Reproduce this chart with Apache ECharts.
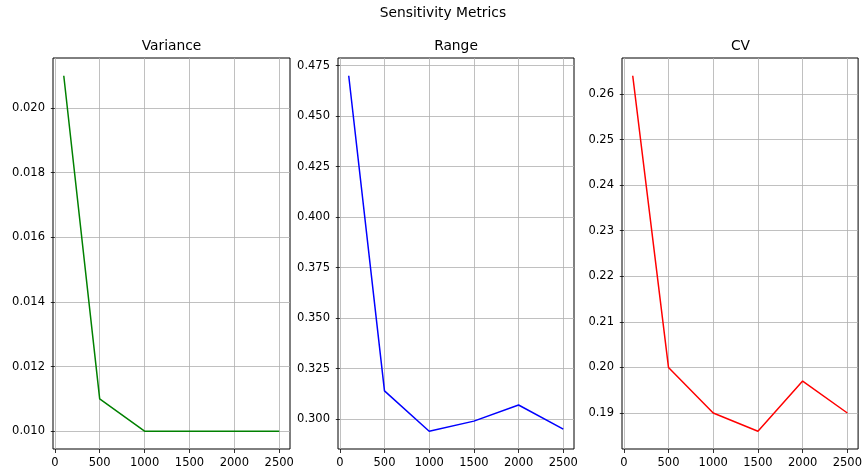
<!DOCTYPE html>
<html lang="en">
<head>
    <meta charset="UTF-8">
    <title>Sensitivity Metrics</title>
    <script src="https://cdn.jsdelivr.net/npm/echarts@6/dist/echarts.min.js"></script>
    <style>
        html, body { margin: 0; padding: 0; background: #fff; }
        #paint { width: 865px; height: 475px; }
    </style>
</head>
<body>
<div id="paint"></div>
<script type="text/javascript">
    // data
    var sampleSizes = [100, 500, 1000, 1500, 2000, 2500];
    var varianceVals = [0.021, 0.011, 0.010, 0.010, 0.010, 0.010];
    var rangeVals = [0.470, 0.314, 0.294, 0.299, 0.307, 0.295];
    var cvVals = [0.264, 0.200, 0.190, 0.186, 0.197, 0.190];

    var xTicks = [0, 500, 1000, 1500, 2000, 2500];
    var varianceTicks = [0.010, 0.012, 0.014, 0.016, 0.018, 0.020];
    var rangeTicks = [0.300, 0.325, 0.350, 0.375, 0.400, 0.425, 0.450, 0.475];
    var cvTicks = [0.19, 0.20, 0.21, 0.22, 0.23, 0.24, 0.25, 0.26];

    var font = 'DejaVu Sans';
    var myChart = echarts.init(document.getElementById('paint'));

    // matplotlib style 5% padding around the data
    function padRange(vals) {
        var lo = Math.min.apply(null, vals), hi = Math.max.apply(null, vals);
        var m = (hi - lo) * 0.05;
        return [lo - m, hi + m];
    }

    var panels = [
        { name: 'Variance', vals: varianceVals, ticks: varianceTicks, dec: 3, color: '#008000', left: 53, right: 575 },
        { name: 'Range', vals: rangeVals, ticks: rangeTicks, dec: 3, color: '#0000ff', left: 338, right: 291 },
        { name: 'CV', vals: cvVals, ticks: cvTicks, dec: 2, color: '#ff0000', left: 622, right: 6 }
    ];

    var grids = [], xAxes = [], yAxes = [], series = [], titles = [];
    titles.push({
        text: 'Sensitivity Metrics', left: 443, top: 6, textAlign: 'center', padding: 0,
        textStyle: { fontFamily: font, fontSize: 13.8, fontWeight: 'normal', color: '#000' }
    });
    var xr = padRange(sampleSizes);
    panels.forEach(function (p, i) {
        var yr = padRange(p.vals);
        grids.push({
            left: p.left, right: p.right, top: 58, bottom: 26,
            show: true, borderColor: '#000', borderWidth: 1, backgroundColor: 'transparent'
        });
        var center = p.left + (865 - p.right - p.left) / 2;
        titles.push({
            text: p.name, left: center, top: 39, textAlign: 'center', padding: 0,
            textStyle: { fontFamily: font, fontSize: 13.8, fontWeight: 'normal', color: '#000' }
        });
        xAxes.push({
            type: 'value', gridIndex: i, min: xr[0], max: xr[1],
            axisLine: { show: false },
            axisTick: { show: true, inside: false, length: 4, customValues: xTicks, lineStyle: { color: '#000', width: 0.8 } },
            axisLabel: {
                customValues: xTicks, margin: 8, color: '#000', fontFamily: font, fontSize: 11.5,
                formatter: function (v) { return String(Math.round(v)); }
            },
            splitLine: { show: true, lineStyle: { color: '#b0b0b0', width: 0.8 } }
        });
        yAxes.push({
            type: 'value', gridIndex: i, min: yr[0], max: yr[1],
            axisLine: { show: false },
            axisTick: { show: true, inside: false, length: 4, customValues: p.ticks, lineStyle: { color: '#000', width: 0.8 } },
            axisLabel: {
                customValues: p.ticks, margin: 8, color: '#000', fontFamily: font, fontSize: 11.5,
                formatter: function (v) { return v.toFixed(p.dec); }
            },
            splitLine: { show: true, lineStyle: { color: '#b0b0b0', width: 0.8 } }
        });
        series.push({
            type: 'line', xAxisIndex: i, yAxisIndex: i,
            data: sampleSizes.map(function (x, k) { return [x, p.vals[k]]; }),
            showSymbol: false, symbol: 'none',
            lineStyle: { color: p.color, width: 1.5 },
            itemStyle: { color: p.color },
            animation: false
        });
    });

    myChart.setOption({
        backgroundColor: '#fff',
        animation: false,
        title: titles,
        grid: grids,
        xAxis: xAxes,
        yAxis: yAxes,
        series: series
    });
</script>
</body>
</html>
